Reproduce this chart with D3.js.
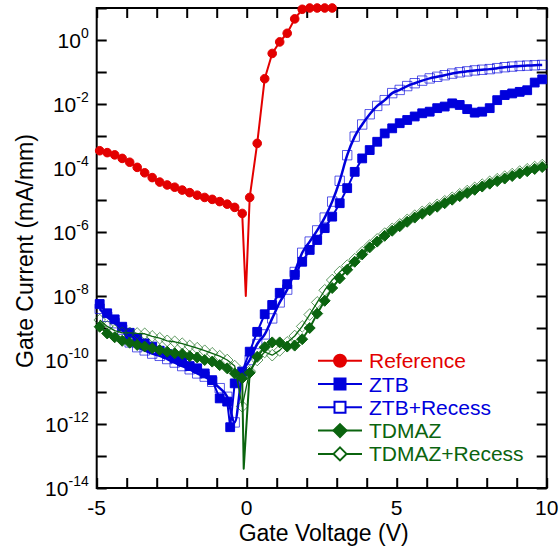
<!DOCTYPE html>
<meta charset="utf-8">
<head>
  <title>Gate current vs gate voltage</title>
</head>
<style>
  body { margin: 0; background: #fff; }
  text { font-family: "Liberation Sans", Arial, sans-serif; }
  .axis .domain { display: none; }
  .axis line { stroke: #000; stroke-width: 2px; }
</style>
<body>
<script src="https://d3js.org/d3.v7.min.js"></script>
<script>
// gate voltage sweep (V), shared by every device
var gateV = [-4.9, -4.65, -4.4, -4.15, -3.9, -3.65, -3.4, -3.15, -2.9, -2.65,
             -2.4, -2.15, -1.9, -1.65, -1.4, -1.15, -0.9, -0.65, -0.4, -0.15,
             0.1, 0.35, 0.6, 0.85, 1.1, 1.35, 1.6, 1.85, 2.1, 2.35,
             2.6, 2.85, 3.1, 3.35, 3.6, 3.85, 4.1, 4.35, 4.6, 4.85,
             5.1, 5.35, 5.6, 5.85, 6.1, 6.35, 6.6, 6.85, 7.1, 7.35,
             7.6, 7.85, 8.1, 8.35, 8.6, 8.85, 9.1, 9.35, 9.6, 9.85];

// log10 of gate current (mA/mm), one value per gateV step
var refExp = [-3.46, -3.52, -3.59, -3.70, -3.82, -3.98, -4.15, -4.30, -4.44, -4.53,
              -4.60, -4.69, -4.77, -4.85, -4.92, -4.98, -5.05, -5.13, -5.23, -5.42,
              -4.92, -3.23, -1.21, -0.42, -0.06, 0.21, 0.66, 0.96, 1.0, 1.0,
              1.0, 1.0];
var ztbExp = [-8.25, -8.54, -8.73, -8.96, -9.15, -9.32, -9.48, -9.58, -9.71, -9.81,
              -9.95, -10.05, -10.19, -10.26, -10.42, -10.63, -11.2, -11.3, -10.73, -10.36,
              -9.74, -9.12, -8.57, -8.28, -7.9, -7.63, -7.34, -6.93, -6.56, -6.25,
              -5.88, -5.52, -5.10, -4.63, -4.12, -3.70, -3.44, -3.18, -2.92, -2.76,
              -2.60, -2.50, -2.39, -2.29, -2.24, -2.13, -2.08, -1.98, -2.03, -2.16,
              -2.27, -2.24, -2.13, -1.88, -1.72, -1.67, -1.62, -1.57, -1.33, -1.23];
var ztbRecessExp = [-8.4, -8.65, -8.85, -9.05, -9.45, -9.6, -9.7, -9.8, -9.87, -9.97,
              -10.08, -10.19, -10.29, -10.42, -10.52, -10.68, -10.88, -11.15, -11.95, -10.45,
              -10.0, -9.5, -9.2, -8.7, -8.2, -7.8, -7.25, -6.65, -6.3, -5.95,
              -5.55, -5.05, -4.4, -3.6, -3.02, -2.64, -2.32, -2.06, -1.88, -1.66,
              -1.56, -1.44, -1.35, -1.27, -1.2, -1.15, -1.1, -1.05, -1.01, -0.98,
              -0.95, -0.93, -0.91, -0.88, -0.85, -0.83, -0.81, -0.8, -0.79, -0.78];
var tdmazExp = [-8.96, -9.17, -9.29, -9.40, -9.46, -9.53, -9.58, -9.63, -9.69, -9.74,
              -9.79, -9.81, -9.88, -9.92, -10.0, -10.05, -10.16, -10.26, -10.42, -10.57,
              -10.4, -9.9, -9.6, -9.45, -9.45, -9.58, -9.55, -9.35, -9.0, -8.55,
              -8.15, -7.75, -7.45, -7.18, -6.93, -6.7, -6.48, -6.3, -6.12, -5.96,
              -5.82, -5.68, -5.55, -5.43, -5.32, -5.21, -5.1, -4.99, -4.88, -4.78,
              -4.68, -4.58, -4.49, -4.41, -4.33, -4.25, -4.17, -4.1, -4.03, -3.97];
var tdmazRecessExp = [-8.75, -8.95, -9.08, -9.15, -9.15, -9.17, -9.18, -9.26, -9.32, -9.40,
              -9.43, -9.49, -9.56, -9.63, -9.71, -9.79, -9.88, -10.0, -10.19, -11.45,
              -10.35, -10.0, -9.75, -9.85, -9.7, -9.45, -9.25, -8.95, -8.58, -8.2,
              -7.82, -7.5, -7.25, -7.05, -6.85, -6.63, -6.42, -6.23, -6.05, -5.9,
              -5.76, -5.62, -5.49, -5.37, -5.26, -5.15, -5.04, -4.93, -4.82, -4.72,
              -4.62, -4.52, -4.43, -4.35, -4.27, -4.19, -4.11, -4.04, -3.97, -3.91];

// sharp dips near 0 V: [gate V, log10 current, has marker]
var refDip = [[-0.03, -8.0, false]];
var ztbDip = [[-0.55, -12.1, true]];
var tdmazDip = [[-0.1, -13.4, false]];

var xTicks = [-5, -4, -3, -2, -1, 0, 1, 2, 3, 4, 5, 6, 7, 8, 9, 10];
var xLabels = [-5, 0, 5, 10];
var yDecades = [-14, -13, -12, -11, -10, -9, -8, -7, -6, -5, -4, -3, -2, -1, 0, 1];
var yLabels = [-14, -12, -10, -8, -6, -4, -2, 0];

var red = "#e30000", blue = "#0000dc", green = "#0b640f";

var margin = {top: 8, right: 12.3, bottom: 62, left: 96.7},
    width = 450,
    height = 480;

var x = d3.scaleLinear().domain([-5, 10]).range([0, width]);
var y = d3.scaleLog().domain([1e-14, 10]).range([height, 0]);

var svg = d3.select("body").append("svg")
    .attr("width", 559)
    .attr("height", 550)
  .append("g")
    .attr("transform", "translate(" + margin.left + "," + margin.top + ")");

function buildSeries(exps, dips) {
  var pts = exps.map(function(e, i) {
    return {v: gateV[i], cur: Math.pow(10, e), mark: true};
  });
  (dips || []).forEach(function(d) {
    pts.push({v: d[0], cur: Math.pow(10, d[1]), mark: d[2]});
  });
  pts.sort(function(a, b) { return a.v - b.v; });
  return pts;
}

function markerPath(shape, h) {
  if (shape === "circle") return d3.symbol().type(d3.symbolCircle).size(Math.PI * h * h)();
  if (shape === "square") return "M" + (-h) + "," + (-h) + "h" + 2 * h + "v" + 2 * h + "h" + (-2 * h) + "Z";
  return "M0," + (-h) + "L" + h + ",0L0," + h + "L" + (-h) + ",0Z";
}

var series = [
  {name: "Reference", color: red, shape: "circle", filled: true, size: 4.3, lw: 2, data: buildSeries(refExp, refDip)},
  {name: "ZTB", color: blue, shape: "square", filled: true, size: 4.4, lw: 2, data: buildSeries(ztbExp, ztbDip)},
  {name: "ZTB+Recess", color: blue, shape: "square", filled: false, size: 4.7, lw: 2.5, curve: d3.curveMonotoneX, data: buildSeries(ztbRecessExp)},
  {name: "TDMAZ", color: green, shape: "diamond", filled: true, size: 5.5, lw: 2, data: buildSeries(tdmazExp, tdmazDip)},
  {name: "TDMAZ+Recess", color: green, shape: "diamond", filled: false, size: 5.8, lw: 1.3, data: buildSeries(tdmazRecessExp)}
];

// axes, ticks pointing inward on all four sides
svg.append("g")
    .attr("class", "axis")
    .attr("transform", "translate(0," + height + ")")
    .call(d3.axisBottom(x).tickValues(xTicks).tickSize(-10).tickFormat(""));
svg.append("g")
    .attr("class", "axis")
    .call(d3.axisTop(x).tickValues(xTicks).tickSize(-10).tickFormat(""));
svg.append("g")
    .attr("class", "axis")
    .call(d3.axisLeft(y).tickValues(yDecades.map(function(e) { return Math.pow(10, e); })).tickSize(-10).tickFormat(""));
svg.append("g")
    .attr("class", "axis")
    .attr("transform", "translate(" + width + ",0)")
    .call(d3.axisRight(y).tickValues(yDecades.map(function(e) { return Math.pow(10, e); })).tickSize(-10).tickFormat(""));

svg.append("rect")
    .attr("width", width)
    .attr("height", height)
    .attr("fill", "none")
    .attr("stroke", "#000")
    .attr("stroke-width", 2);

// tick labels
svg.selectAll(".xlab")
    .data(xLabels)
  .enter().append("text")
    .attr("class", "xlab")
    .attr("x", function(d) { return x(d); })
    .attr("y", height + 27)
    .attr("text-anchor", "middle")
    .style("font-size", "21px")
    .text(function(d) { return d; });

var ylab = svg.selectAll(".ylab")
    .data(yLabels)
  .enter().append("text")
    .attr("class", "ylab")
    .attr("x", -8)
    .attr("y", function(d) { return y(Math.pow(10, d)) + 7.5; })
    .attr("text-anchor", "end")
    .style("font-size", "21px");
ylab.append("tspan").text("10");
ylab.append("tspan")
    .attr("dy", -10)
    .style("font-size", "14px")
    .text(function(d) { return d; });

// axis titles
svg.append("text")
    .attr("x", width / 2 + 2)
    .attr("y", height + 53)
    .attr("text-anchor", "middle")
    .style("font-size", "23px")
    .text("Gate Voltage (V)");

svg.append("text")
    .attr("transform", "rotate(-90)")
    .attr("x", -243)
    .attr("y", -64)
    .attr("text-anchor", "middle")
    .style("font-size", "23px")
    .text("Gate Current (mA/mm)");

// curves
series.forEach(function(s) {
  var line = d3.line()
      .x(function(d) { return x(d.v); })
      .y(function(d) { return y(d.cur); })
      .curve(s.curve || d3.curveLinear);

  var g = svg.append("g");
  g.append("path")
      .datum(s.data)
      .attr("fill", "none")
      .attr("stroke", s.color)
      .attr("stroke-width", s.lw)
      .attr("stroke-linejoin", "round")
      .attr("d", line);

  g.selectAll(".mk")
      .data(s.data.filter(function(d) { return d.mark; }))
    .enter().append("path")
      .attr("class", "mk")
      .attr("transform", function(d) { return "translate(" + x(d.v) + "," + y(d.cur) + ")"; })
      .attr("d", markerPath(s.shape, s.size))
      .attr("fill", s.filled ? s.color : "none")
      .attr("stroke", s.color)
      .attr("stroke-opacity", s.filled ? 1 : 0.65)
      .attr("stroke-width", 1);
});

// legend
var legend = svg.append("g")
    .attr("transform", "translate(" + (318 - margin.left) + "," + (360.7 - margin.top) + ")");

series.forEach(function(s, i) {
  var row = legend.append("g").attr("transform", "translate(0," + i * 23.3 + ")");
  row.append("line")
      .attr("x1", 0).attr("x2", 44)
      .attr("stroke", s.color)
      .attr("stroke-width", 2);
  row.append("path")
      .attr("transform", "translate(22,0)")
      .attr("d", markerPath(s.shape, s.shape === "diamond" ? 6.5 : (s.shape === "circle" ? 6 : 5.5)))
      .attr("fill", s.filled ? s.color : "#fff")
      .attr("stroke", s.color)
      .attr("stroke-width", 2);
  row.append("text")
      .attr("x", 51)
      .attr("y", 7.5)
      .attr("fill", s.color)
      .style("font-size", "21px")
      .text(s.name);
});
</script>
</body>
